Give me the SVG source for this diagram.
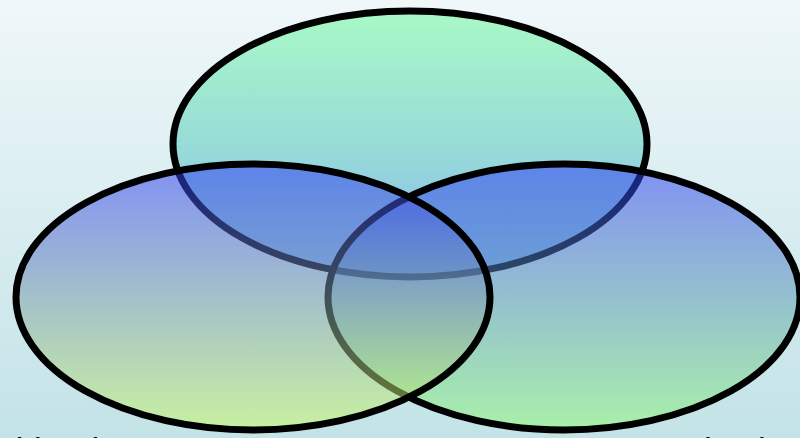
<svg xmlns="http://www.w3.org/2000/svg" width="800" height="438" viewBox="0 0 800 438">
  <defs>
    <linearGradient id="bg" x1="0" y1="0" x2="0" y2="1">
      <stop offset="0" stop-color="#eff7f9"/>
      <stop offset="1" stop-color="#c3e3e7"/>
    </linearGradient>
    <linearGradient id="gTop" x1="0" y1="0" x2="0" y2="1">
      <stop offset="0" stop-color="#a8f9c6"/>
      <stop offset="0.5" stop-color="#98dcd8"/>
      <stop offset="1" stop-color="#86b6ee"/>
    </linearGradient>
    <linearGradient id="gLeft" x1="0" y1="0" x2="0" y2="1">
      <stop offset="0" stop-color="#2a38f6"/>
      <stop offset="1" stop-color="#ccfc60"/>
    </linearGradient>
    <linearGradient id="gRight" x1="0" y1="0" x2="0" y2="1">
      <stop offset="0" stop-color="#2a38f6"/>
      <stop offset="1" stop-color="#90fc70"/>
    </linearGradient>
    <style>
      .set { stroke: #000; stroke-width: 7; fill-opacity: 0.52; }
      .lbl { font-family: "Liberation Sans", Arial, sans-serif; font-weight: bold; font-size: 22px; fill: #000; }
    </style>
  </defs>
  <rect x="0" y="0" width="800" height="438" fill="url(#bg)"/>
  <g id="set-top">
    <ellipse cx="410" cy="144" rx="237" ry="133" fill="url(#gTop)" stroke="#000" stroke-width="7"/>
  </g>
  <g id="set-right">
    <ellipse class="set" cx="564" cy="297" rx="236" ry="133" fill="url(#gRight)"/>
  </g>
  <g id="set-left">
    <ellipse class="set" cx="253" cy="297" rx="237" ry="133" fill="url(#gLeft)"/>
  </g>
  <g id="labels">
    <text class="lbl" x="-52" y="453">Potential Leads</text>
    <text class="lbl" x="650" y="453">Sets (Numbers)</text>
  </g>
  <g id="connectors"/>
</svg>
